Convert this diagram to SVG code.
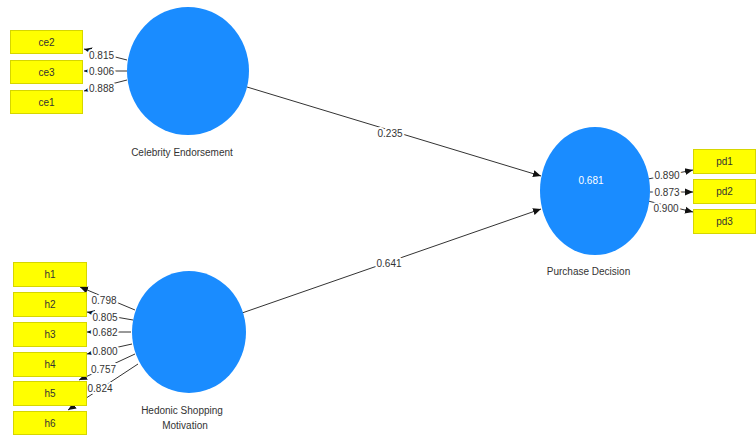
<svg xmlns="http://www.w3.org/2000/svg" width="756" height="435" viewBox="0 0 756 435">
<style>
.lat{fill:#1a8cff;}
.box{fill:#ffff00;stroke:#d6d600;stroke-width:1;}
.bt{font-family:"Liberation Sans",Arial,sans-serif;font-size:10px;fill:#333;text-anchor:middle;}
.nl{font-family:"Liberation Sans",Arial,sans-serif;font-size:10px;fill:#333;text-anchor:middle;}
.lv{font-family:"Liberation Sans",Arial,sans-serif;font-size:10px;fill:#fff;text-anchor:middle;}
.ln{stroke:#333;stroke-width:1;fill:none;marker-end:url(#ah);}
.wl{font-family:"Liberation Sans",Arial,sans-serif;font-size:10px;fill:#333;text-anchor:middle;stroke:#fff;stroke-width:4;paint-order:stroke;stroke-linejoin:round;}
</style>
<defs>
<marker id="ah" markerUnits="userSpaceOnUse" markerWidth="10" markerHeight="10" refX="8" refY="5" orient="auto">
<path d="M0,1.5 L8,5 L0,8.5 Z" fill="#111"/>
</marker>
</defs>
<rect width="756" height="435" fill="#fff"/>
<g id="connectors">
<line class="ln" x1="127" y1="60" x2="84" y2="49"/>
<line class="ln" x1="127" y1="71" x2="84" y2="71"/>
<line class="ln" x1="127" y1="80" x2="84" y2="91"/>
<line class="ln" x1="135" y1="310" x2="80" y2="287"/>
<line class="ln" x1="133" y1="320" x2="87" y2="312"/>
<line class="ln" x1="131" y1="332" x2="87" y2="332"/>
<line class="ln" x1="132" y1="344" x2="87" y2="354"/>
<line class="ln" x1="135" y1="354" x2="79" y2="380"/>
<line class="ln" x1="138" y1="364" x2="68" y2="410"/>
<line class="ln" x1="648" y1="179" x2="693" y2="170"/>
<line class="ln" x1="650" y1="192" x2="693" y2="192"/>
<line class="ln" x1="648" y1="201" x2="693" y2="212"/>
<line class="ln" x1="247" y1="87" x2="541" y2="176"/>
<line class="ln" x1="242" y1="313" x2="541" y2="209"/>
<text class="wl" x="101.5" y="58.5">0.815</text>
<text class="wl" x="101.5" y="75">0.906</text>
<text class="wl" x="101.5" y="91.5">0.888</text>
<text class="wl" x="104" y="303.5">0.798</text>
<text class="wl" x="105" y="320.5">0.805</text>
<text class="wl" x="105" y="336">0.682</text>
<text class="wl" x="105" y="354.5">0.800</text>
<text class="wl" x="103.5" y="372.5">0.757</text>
<text class="wl" x="100" y="391.5">0.824</text>
<text class="wl" x="667" y="178.5">0.890</text>
<text class="wl" x="667" y="195.5">0.873</text>
<text class="wl" x="666" y="211.5">0.900</text>
<text class="wl" x="390" y="136.5">0.235</text>
<text class="wl" x="389" y="266.5">0.641</text>
</g>
<g id="ce">
<ellipse class="lat" cx="188" cy="71" rx="61" ry="64"/>
<text class="nl" x="182" y="155.5">Celebrity Endorsement</text>
</g>
<g id="hsm">
<ellipse class="lat" cx="189" cy="332" rx="57" ry="61"/>
<text class="nl" x="182" y="413.5">Hedonic Shopping</text>
<text class="nl" x="185" y="428.5">Motivation</text>
</g>
<g id="pd">
<ellipse class="lat" cx="595" cy="191" rx="55" ry="64"/>
<text class="lv" x="591" y="183.5">0.681</text>
<text class="nl" x="588.5" y="275">Purchase Decision</text>
</g>
<g id="ce2"><rect class="box" x="10.5" y="30.5" width="72" height="23"/><text class="bt" x="46.5" y="45.5">ce2</text></g>
<g id="ce3"><rect class="box" x="10.5" y="60.5" width="72" height="23"/><text class="bt" x="46.5" y="75.5">ce3</text></g>
<g id="ce1"><rect class="box" x="10.5" y="90.5" width="72" height="23"/><text class="bt" x="46.5" y="105.5">ce1</text></g>
<g id="h1"><rect class="box" x="13.5" y="262.5" width="73" height="24"/><text class="bt" x="50" y="278">h1</text></g>
<g id="h2"><rect class="box" x="13.5" y="292.5" width="73" height="24"/><text class="bt" x="50" y="308">h2</text></g>
<g id="h3"><rect class="box" x="13.5" y="322.5" width="73" height="24"/><text class="bt" x="50" y="338">h3</text></g>
<g id="h4"><rect class="box" x="13.5" y="352.5" width="73" height="24"/><text class="bt" x="50" y="368">h4</text></g>
<g id="h5"><rect class="box" x="13.5" y="381.5" width="73" height="24"/><text class="bt" x="50" y="397">h5</text></g>
<g id="h6"><rect class="box" x="13.5" y="411.5" width="73" height="23"/><text class="bt" x="50" y="427">h6</text></g>
<g id="pd1"><rect class="box" x="693.5" y="149.5" width="62" height="24"/><text class="bt" x="724.5" y="165">pd1</text></g>
<g id="pd2"><rect class="box" x="693.5" y="179.5" width="62" height="24"/><text class="bt" x="724.5" y="195">pd2</text></g>
<g id="pd3"><rect class="box" x="693.5" y="209.5" width="62" height="24"/><text class="bt" x="724.5" y="225">pd3</text></g>
</svg>
